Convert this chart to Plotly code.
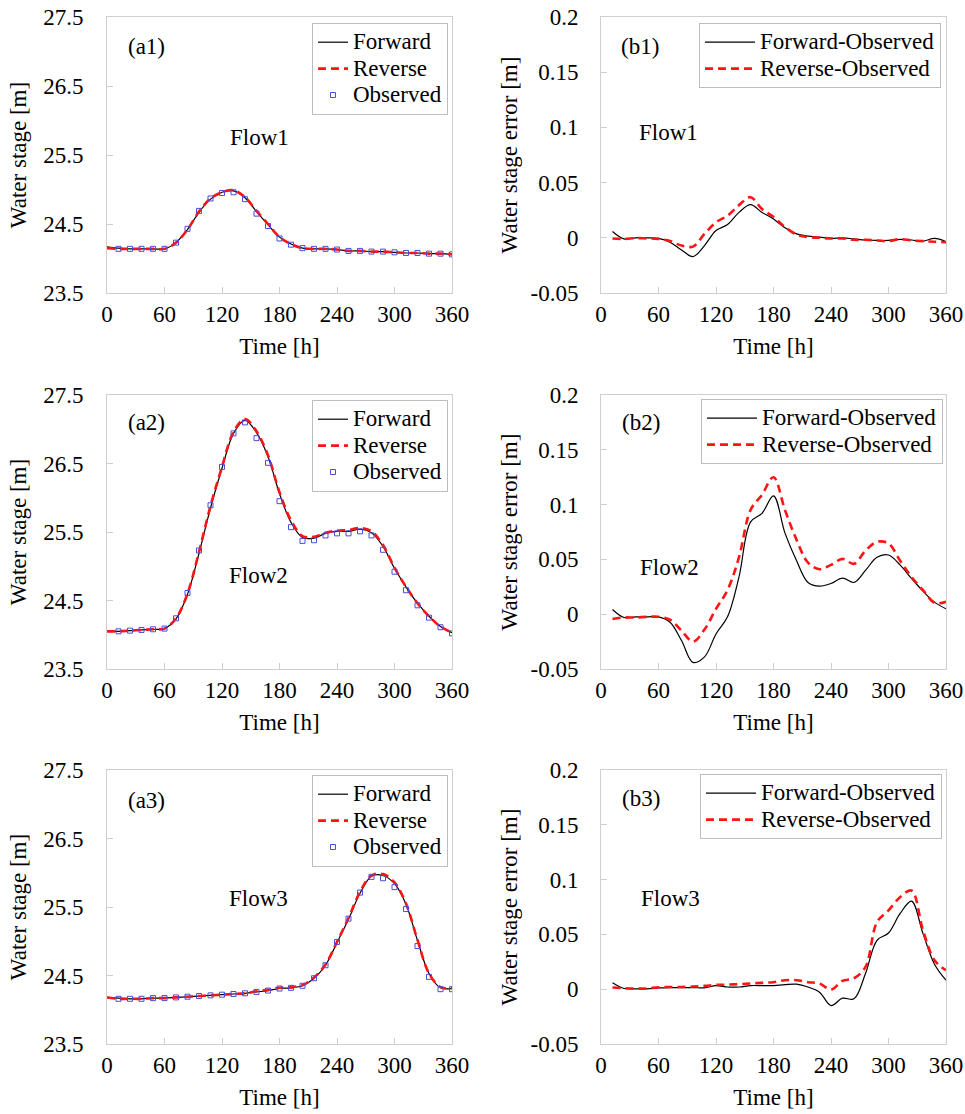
import plotly.graph_objects as go

# ---------------- data ----------------
time_sim = [0, 12, 24, 36, 48, 60, 72, 84, 96, 108, 120, 132, 144, 156, 168, 180,
            192, 204, 216, 228, 240, 252, 264, 276, 288, 300, 312, 324, 336, 348, 360]
time_obs = [12, 24, 36, 48, 60, 72, 84, 96, 108, 120, 132, 144, 156, 168, 180,
            192, 204, 216, 228, 240, 252, 264, 276, 288, 300, 312, 324, 336, 348, 360]
time_err = time_obs

# Flow1 water stage [m]
flow1_forward = [24.17, 24.15, 24.14, 24.14, 24.14, 24.14, 24.23, 24.42, 24.67, 24.86, 24.96, 24.98,
                 24.88, 24.68, 24.49, 24.31, 24.21, 24.15, 24.14, 24.14, 24.13, 24.11, 24.11, 24.10,
                 24.10, 24.09, 24.08, 24.08, 24.07, 24.07, 24.06]
flow1_reverse = [24.15, 24.14, 24.14, 24.14, 24.14, 24.14, 24.23, 24.42, 24.68, 24.87, 24.96, 24.99,
                 24.89, 24.69, 24.50, 24.31, 24.21, 24.15, 24.14, 24.14, 24.13, 24.11, 24.11, 24.10,
                 24.10, 24.09, 24.08, 24.08, 24.07, 24.07, 24.06]
flow1_observed = [24.14, 24.14, 24.14, 24.14, 24.14, 24.23, 24.43, 24.69, 24.87, 24.95, 24.96, 24.86,
                  24.65, 24.47, 24.29, 24.20, 24.15, 24.14, 24.14, 24.13, 24.11, 24.11, 24.10, 24.10,
                  24.09, 24.08, 24.08, 24.07, 24.07, 24.06]

# Flow2 water stage [m]
flow2_forward = [24.05, 24.05, 24.06, 24.07, 24.08, 24.09, 24.23, 24.59, 25.19, 25.85, 26.43, 26.94,
                 27.13, 26.95, 26.60, 26.06, 25.64, 25.42, 25.41, 25.48, 25.51, 25.51, 25.54, 25.49,
                 25.29, 24.97, 24.70, 24.46, 24.27, 24.12, 24.03]
flow2_reverse = [24.05, 24.05, 24.06, 24.07, 24.08, 24.09, 24.24, 24.60, 25.21, 25.88, 26.45, 26.96,
                 27.15, 26.97, 26.62, 26.08, 25.67, 25.44, 25.43, 25.49, 25.52, 25.53, 25.56, 25.51,
                 25.31, 24.98, 24.70, 24.46, 24.27, 24.12, 24.03]
flow2_observed = [24.05, 24.06, 24.07, 24.08, 24.09, 24.24, 24.61, 25.23, 25.89, 26.45, 26.94, 27.10,
                  26.87, 26.51, 25.95, 25.57, 25.37, 25.38, 25.45, 25.48, 25.48, 25.51, 25.45, 25.24,
                  24.92, 24.65, 24.43, 24.25, 24.11, 24.02]

# Flow3 water stage [m]
flow3_forward = [24.18, 24.17, 24.16, 24.16, 24.17, 24.17, 24.18, 24.19, 24.20, 24.21, 24.22, 24.23,
                 24.24, 24.26, 24.28, 24.31, 24.32, 24.35, 24.46, 24.65, 24.98, 25.32, 25.70, 25.95,
                 25.96, 25.84, 25.54, 25.01, 24.53, 24.32, 24.31]
flow3_reverse = [24.18, 24.16, 24.16, 24.16, 24.17, 24.17, 24.18, 24.19, 24.20, 24.21, 24.22, 24.23,
                 24.24, 24.27, 24.29, 24.32, 24.33, 24.36, 24.47, 24.66, 24.99, 25.34, 25.72, 25.96,
                 25.98, 25.86, 25.55, 25.02, 24.53, 24.33, 24.32]
flow3_observed = [24.16, 24.16, 24.16, 24.17, 24.17, 24.18, 24.19, 24.20, 24.21, 24.22, 24.23, 24.24,
                  24.26, 24.28, 24.31, 24.32, 24.35, 24.46, 24.65, 24.99, 25.33, 25.71, 25.94, 25.92,
                  25.79, 25.47, 24.93, 24.48, 24.30, 24.30]

# Water stage errors [m]
err1_forward = [0.0057, -0.001, 0.0, 0.0, -0.0006, -0.004, -0.011, -0.017, -0.007, 0.0066, 0.012, 0.023,
                0.030, 0.023, 0.017, 0.009, 0.0036, 0.0015, 0.0006, -0.0006, 0.0, -0.001, -0.002, -0.0024,
                -0.0024, -0.0015, -0.002, -0.003, -0.0006, -0.0036]
err1_reverse = [-0.0006, -0.001, -0.0003, -0.0006, -0.001, -0.003, -0.007, -0.008, 0.0036, 0.014, 0.020,
                0.0296, 0.0368, 0.026, 0.019, 0.0097, 0.003, 0.0006, 0.0, -0.0006, -0.0006, -0.0018,
                -0.0018, -0.0024, -0.003, -0.0012, -0.0024, -0.003, -0.0036, -0.004]
err2_forward = [0.0043, -0.003, -0.0024, -0.0024, -0.0024, -0.0073, -0.024, -0.044, -0.039, -0.018, -0.0024,
                0.034, 0.084, 0.092, 0.108, 0.074, 0.049, 0.029, 0.0256, 0.028, 0.033, 0.029, 0.040, 0.052,
                0.054, 0.045, 0.0326, 0.021, 0.011, 0.0049]
err2_reverse = [-0.0043, -0.003, -0.003, -0.0024, -0.0024, -0.005, -0.015, -0.025, -0.014, 0.0049, 0.022,
                0.052, 0.095, 0.109, 0.125, 0.095, 0.068, 0.047, 0.041, 0.045, 0.0505, 0.046, 0.058, 0.066,
                0.0646, 0.049, 0.034, 0.022, 0.0104, 0.0113]
err3_forward = [0.0058, 0.0006, 0.0003, 0.0003, 0.0012, 0.0015, 0.0015, 0.0015, 0.0012, 0.0033, 0.002, 0.002,
                0.0033, 0.0033, 0.0033, 0.0042, 0.0046, 0.002, -0.0027, -0.0149, -0.0082, -0.0088, 0.0143,
                0.0446, 0.0513, 0.0689, 0.0804, 0.0507, 0.0228, 0.0082]
err3_reverse = [0.0015, 0.0009, 0.0006, 0.0006, 0.0018, 0.002, 0.002, 0.0024, 0.003, 0.0039, 0.0042, 0.0046,
                0.0052, 0.0058, 0.0064, 0.0082, 0.0082, 0.0064, 0.0052, -0.0003, 0.0076, 0.010, 0.0203,
                0.0613, 0.0719, 0.084, 0.090, 0.0537, 0.0264, 0.0173]

x_ticks = [0, 60, 120, 180, 240, 300, 360]
stage_ticks = [23.5, 24.5, 25.5, 26.5, 27.5]
stage_ticklabels = ["23.5", "24.5", "25.5", "26.5", "27.5"]
err_ticks = [-0.05, 0, 0.05, 0.1, 0.15, 0.2]
err_ticklabels = ["-0.05", "0", "0.05", "0.1", "0.15", "0.2"]

panel_labels_a = ["(a1)", "(a2)", "(a3)"]
panel_labels_b = ["(b1)", "(b2)", "(b3)"]
flow_names = ["Flow1", "Flow2", "Flow3"]
names_a = ["Forward", "Reverse", "Observed"]
names_b = ["Forward-Observed", "Reverse-Observed"]

# ---------------- layout helpers ----------------
W, H = 965, 1114
FONT = "Liberation Serif"
FS = 23
LEG_FS = 18          # controls legend row spacing; text itself is drawn at FS
FRAME = "#cfcfcf"
RED = "#ff1414"
BLUE = "#4b4bd8"


def px(x):
    return x / W


def py(y):
    return 1 - y / H


def legname(s):
    return f'<span style="font-size:{FS}px">{s}</span>'


left_x = (107, 452)
right_x = (601, 946)
rows_y = [(17, 293), (395, 669), (770, 1044)]

stage_sets = [
    (flow1_forward, flow1_reverse, flow1_observed),
    (flow2_forward, flow2_reverse, flow2_observed),
    (flow3_forward, flow3_reverse, flow3_observed),
]
err_sets = [
    (err1_forward, err1_reverse),
    (err2_forward, err2_reverse),
    (err3_forward, err3_reverse),
]

fig = go.Figure()
layout = dict(
    width=W, height=H, margin=dict(l=0, r=0, t=0, b=0),
    paper_bgcolor="white", plot_bgcolor="white",
    font=dict(family=FONT, size=FS, color="black"),
    showlegend=True, annotations=[],
)

legend_pos_a = [(448, 23), (448, 400), (448, 775)]
legend_pos_b = [(941, 23), (943, 399), (942, 774)]
label_pos_a = [(146, 47), (146, 423), (146, 800)]
flow_pos_a = [(259, 137), (258, 575), (258, 898)]
label_pos_b = [(640, 47), (641, 423), (641, 798)]
flow_pos_b = [(668, 133), (669, 567), (670, 898)]


def axis_common():
    return dict(
        showline=True, linecolor=FRAME, linewidth=1, mirror=True,
        ticks="inside", ticklen=6, tickcolor=FRAME, tickwidth=1,
        showgrid=False, zeroline=False, automargin=False,
        tickfont=dict(family=FONT, size=FS, color="black"),
    )


for r in range(3):
    y0, y1 = rows_y[r]
    for c in range(2):
        idx = r * 2 + c + 1
        xa = "x" if idx == 1 else f"x{idx}"
        ya = "y" if idx == 1 else f"y{idx}"
        xkey = "xaxis" if idx == 1 else f"xaxis{idx}"
        ykey = "yaxis" if idx == 1 else f"yaxis{idx}"
        lkey = "legend" if idx == 1 else f"legend{idx}"
        dom_x = left_x if c == 0 else right_x

        xa_d = axis_common()
        xa_d.update(domain=[px(dom_x[0]), px(dom_x[1])], range=[0, 360],
                    tickvals=x_ticks, anchor=ya, ticklabelstandoff=0,
                    title=dict(text="Time [h]", standoff=12,
                               font=dict(family=FONT, size=FS)))
        ya_d = axis_common()
        ya_d.update(domain=[py(y1), py(y0)], anchor=xa)

        if c == 0:
            fwd, rev, obs = stage_sets[r]
            ya_d.update(range=[23.5, 27.5], tickvals=stage_ticks, ticktext=stage_ticklabels,
                        ticklabelstandoff=18,
                        title=dict(text="Water stage [m]", standoff=10,
                                   font=dict(family=FONT, size=FS)))
            fig.add_trace(go.Scatter(x=time_sim, y=fwd, mode="lines", name=legname(names_a[0]),
                                     line=dict(color="black", width=1.2, shape="spline"),
                                     xaxis=xa, yaxis=ya, legend=lkey))
            fig.add_trace(go.Scatter(x=time_sim, y=rev, mode="lines", name=legname(names_a[1]),
                                     line=dict(color=RED, width=2.6, dash="8px,5px", shape="spline"),
                                     xaxis=xa, yaxis=ya, legend=lkey))
            fig.add_trace(go.Scatter(x=time_obs, y=obs, mode="markers", name=legname(names_a[2]),
                                     marker=dict(symbol="square-open", size=5, color=BLUE,
                                                 line=dict(width=1, color=BLUE)),
                                     xaxis=xa, yaxis=ya, legend=lkey))
            lx, ly = legend_pos_a[r]
            iw = 30
            lab, lab_pos, fl_pos = panel_labels_a[r], label_pos_a[r], flow_pos_a[r]
        else:
            fwd, rev = err_sets[r]
            ya_d.update(range=[-0.05, 0.2], tickvals=err_ticks, ticktext=err_ticklabels,
                        ticklabelstandoff=17,
                        title=dict(text="Water stage error [m]", standoff=6,
                                   font=dict(family=FONT, size=FS)))
            fig.add_trace(go.Scatter(x=time_err, y=fwd, mode="lines", name=legname(names_b[0]),
                                     line=dict(color="black", width=1.2, shape="spline"),
                                     xaxis=xa, yaxis=ya, legend=lkey))
            fig.add_trace(go.Scatter(x=time_err, y=rev, mode="lines", name=legname(names_b[1]),
                                     line=dict(color=RED, width=2.6, dash="8px,5px", shape="spline"),
                                     xaxis=xa, yaxis=ya, legend=lkey))
            lx, ly = legend_pos_b[r]
            iw = 50
            lab, lab_pos, fl_pos = panel_labels_b[r], label_pos_b[r], flow_pos_b[r]

        layout[xkey] = xa_d
        layout[ykey] = ya_d
        layout[lkey] = dict(
            x=px(lx), y=py(ly), xanchor="right", yanchor="top",
            bgcolor="white", bordercolor="#bdbdbd", borderwidth=1,
            font=dict(family=FONT, size=LEG_FS, color="black"),
            itemwidth=iw, tracegroupgap=0,
        )
        layout["annotations"].append(dict(
            text=lab, x=px(lab_pos[0]), y=py(lab_pos[1]), xref="paper", yref="paper",
            showarrow=False, xanchor="center", yanchor="middle",
            font=dict(family=FONT, size=FS, color="black")))
        layout["annotations"].append(dict(
            text=flow_names[r], x=px(fl_pos[0]), y=py(fl_pos[1]), xref="paper", yref="paper",
            showarrow=False, xanchor="center", yanchor="middle",
            font=dict(family=FONT, size=FS, color="black")))

fig.update_layout(**layout)
fig.write_html("out.html")
